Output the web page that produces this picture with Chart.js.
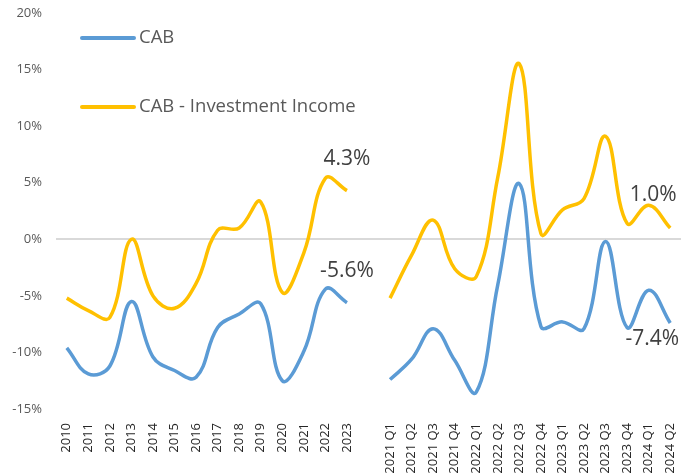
<!DOCTYPE html>
<html>
<head>
<meta charset="utf-8">
<script src="https://cdn.jsdelivr.net/npm/chart.js@4/dist/chart.umd.min.js"></script>
<style>
  html, body { margin: 0; padding: 0; background: #fff; }
  #wrap { position: relative; width: 681px; height: 474px; }
</style>
</head>
<body>
<div id="wrap"><canvas id="c" width="681" height="474"></canvas></div>
<script>
// ---- Data ----
const annualLabels = ['2010','2011','2012','2013','2014','2015','2016','2017','2018','2019','2020','2021','2022','2023'];
const quarterLabels = ['2021 Q1','2021 Q2','2021 Q3','2021 Q4','2022 Q1','2022 Q2','2022 Q3','2022 Q4','2023 Q1','2023 Q2','2023 Q3','2023 Q4','2024 Q1','2024 Q2'];
const gapLabel = '';

const cabAnnual = [-9.6, -11.9, -11.2, -5.5, -10.4, -11.6, -12.2, -7.8, -6.6, -5.7, -12.5, -9.9, -4.4, -5.6];
const cabInvAnnual = [-5.2, -6.3, -6.9, 0.0, -5.0, -6.1, -3.9, 0.8, 1.0, 3.3, -4.7, -1.2, 5.4, 4.3];
const cabQuarter = [-12.4, -10.6, -7.9, -10.7, -13.5, -4.0, 4.9, -7.7, -7.3, -7.9, -0.2, -7.8, -4.5, -7.4];
const cabInvQuarter = [-5.2, -1.4, 1.7, -2.6, -3.3, 5.5, 15.5, 0.5, 2.6, 3.6, 9.1, 1.4, 3.0, 1.0];

const yTicks = [-15, -10, -5, 0, 5, 10, 15, 20];
const seriesNames = ['CAB', 'CAB - Investment Income'];
const blue = '#5B9BD5';
const gold = '#FFC000';

const allLabels = annualLabels.concat([gapLabel], quarterLabels);
const toPts = (labels, vals) => labels.map((l, i) => ({ x: l, y: vals[i] }));

const lineDs = (label, labels, vals, color, endLabel, off) => ({
  label: label,
  data: toPts(labels, vals),
  borderColor: color,
  backgroundColor: color,
  borderWidth: 3.5,
  pointRadius: 0,
  pointHoverRadius: 0,
  tension: 0.4,
  fill: false,
  endLabel: endLabel,
  labelOff: off
});

const datasets = [
  lineDs(seriesNames[0], annualLabels, cabAnnual, blue, '-5.6%', [0, -32]),
  lineDs(seriesNames[1], annualLabels, cabInvAnnual, gold, '4.3%', [0, -32]),
  lineDs(seriesNames[0], quarterLabels, cabQuarter, blue, '-7.4%', [-18, 16]),
  lineDs(seriesNames[1], quarterLabels, cabInvQuarter, gold, '1.0%', [-17, -33])
];

const textColor = '#595959';
const fontFamily = "'Open Sans', 'Liberation Sans', sans-serif";

const overlay = {
  id: 'overlay',
  afterDatasetsDraw(chart) {
    const ctx = chart.ctx;
    ctx.save();
    // End labels
    ctx.font = '21px ' + fontFamily;
    ctx.fillStyle = '#404040';
    ctx.textAlign = 'center';
    ctx.textBaseline = 'middle';
    chart.data.datasets.forEach((ds, di) => {
      const meta = chart.getDatasetMeta(di);
      const pt = meta.data[meta.data.length - 1];
      ctx.fillText(ds.endLabel, pt.x + ds.labelOff[0], pt.y + ds.labelOff[1]);
    });
    // Legend inside plot
    const items = [[seriesNames[0], blue, 38], [seriesNames[1], gold, 107]];
    ctx.font = '18.5px ' + fontFamily;
    ctx.fillStyle = textColor;
    ctx.textAlign = 'left';
    items.forEach(([name, color, y]) => {
      ctx.beginPath();
      ctx.strokeStyle = color;
      ctx.lineWidth = 4;
      ctx.lineCap = 'round';
      ctx.moveTo(82, y);
      ctx.lineTo(134, y);
      ctx.stroke();
      ctx.fillText(name, 139, y);
    });
    ctx.restore();
  }
};

new Chart(document.getElementById('c'), {
  type: 'line',
  data: { labels: allLabels, datasets: datasets },
  options: {
    responsive: false,
    animation: false,
    devicePixelRatio: 1,
    layout: { padding: { top: 13, right: 0, left: 0, bottom: 0 } },
    plugins: {
      legend: { display: false },
      tooltip: { enabled: false }
    },
    elements: { line: { capBezierPoints: false } },
    scales: {
      x: {
        type: 'category',
        offset: true,
        grid: { display: false },
        border: { display: false },
        ticks: {
          autoSkip: false,
          minRotation: 90,
          maxRotation: 90,
          padding: 6,
          color: '#262626',
          font: { family: fontFamily, size: 13 }
        },
        afterFit(scale) { scale.height = 65; scale.paddingRight = 0; scale.paddingLeft = 0; scale.paddingTop = 0; scale.paddingBottom = 0; }
      },
      y: {
        min: -15,
        max: 20,
        afterBuildTicks(scale) { scale.ticks = yTicks.map(v => ({ value: v })); },
        grid: {
          drawTicks: false,
          lineWidth: 2,
          color: (c) => (c.tick && c.tick.value === 0 ? '#d9d9d9' : 'rgba(0,0,0,0)')
        },
        border: { display: false },
        ticks: {
          padding: 14,
          color: textColor,
          font: { family: fontFamily, size: 13 },
          callback: (v) => v + '%'
        },
        afterFit(scale) { scale.width = 56; scale.paddingTop = 0; scale.paddingBottom = 0; }
      }
    }
  },
  plugins: [overlay]
});
</script>
</body>
</html>
